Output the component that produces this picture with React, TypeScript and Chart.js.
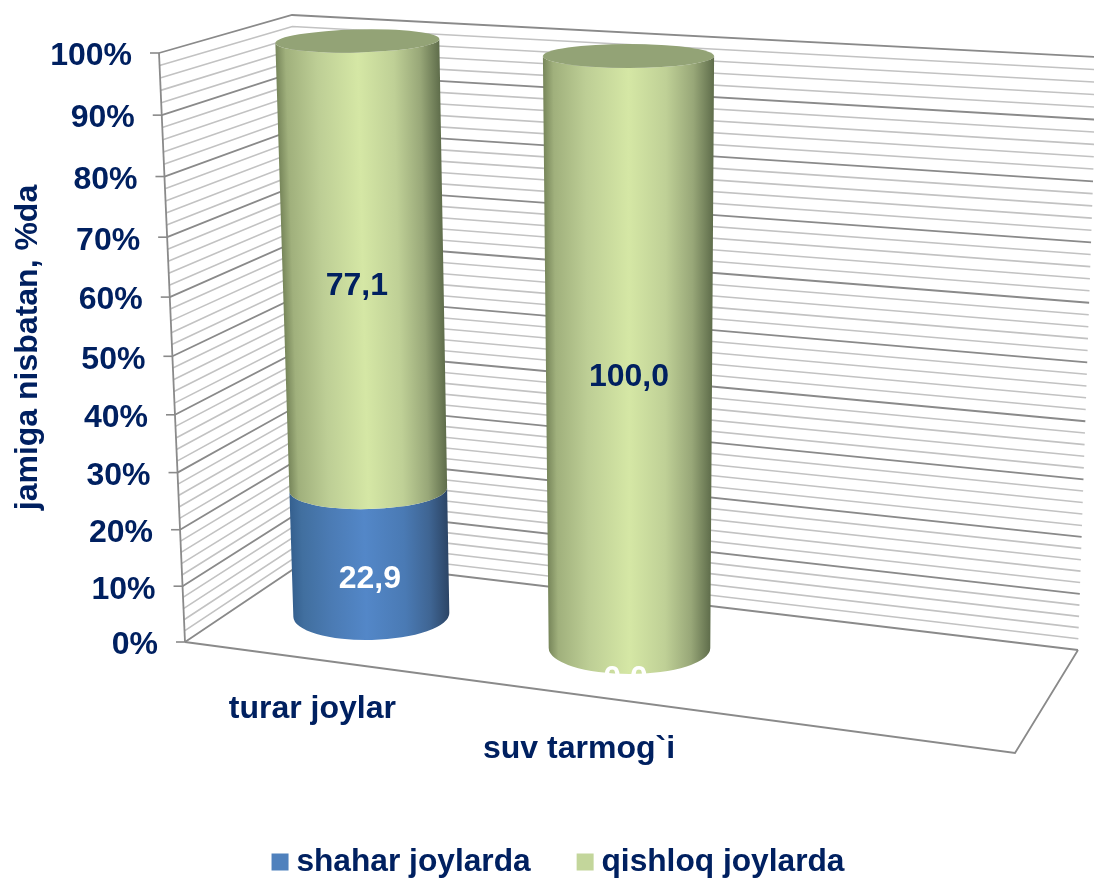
import React, { useEffect, useRef } from "react";
import { Chart, registerables, LinearScale, CategoryScale } from "chart.js";

const categories = ["turar joylar", "suv tarmog`i", ""];
const shaharValues = [22.9, 0];
const qishloqValues = [77.1, 100];
const seriesNames = ["shahar joylarda", "qishloq joylarda"];
const axisTitle = "jamiga nisbatan, %da";

const NAVY = "#002060";
const FONT = "'Liberation Sans', Arial, sans-serif";
const MAJOR = "#8a8a8a";
const MINOR = "#c2c2c2";

const SIDE_STOPS = [
  [[0, "#35608f"], [0.07, "#416f9f"], [0.25, "#4b7bb4"], [0.47, "#5387c8"], [0.72, "#4a7ab4"], [0.88, "#3f6593"], [1, "#2c4566"]],
  [[0, "#77865a"], [0.06, "#a0b07c"], [0.25, "#bdce95"], [0.5, "#d5e7a5"], [0.72, "#bfd096"], [0.88, "#98a778"], [1, "#5f6d4b"]],
];
const CAP_COLORS = ["#4a6f9f", "#93a376"];

// per-category cylinder look: offsets from the scale's own bar geometry
const SHAPES = [
  { dxB: 8, dxT: -6, wB: 0.975, wT: 1.025, yB: -27, yT: -12, ryB: 25, ryT: 11.5, tilt: -0.025 },
  { dxB: -0.5, dxT: -1.5, wB: 1.01, wT: 1.07, yB: 6, yT: 3, ryB: 26, ryT: 12, tilt: 0 },
];

const DEPTH = -0.058;
const persp = (v: number) => (v * (1 + DEPTH)) / (1 + DEPTH * v);
const lerp = (a: number, b: number, t: number) => a + (b - a) * t;
const frontEdgeX = (f: number) => lerp(185, 159, f);

class PerspectiveScale extends LinearScale {
  static id = "perspective";
  static defaults = LinearScale.defaults;
  getPixelForValue(value: number) {
    const self = this as any;
    if (value === null || value === undefined || Number.isNaN(+value)) return NaN;
    const v = (+value - self.min) / (self.max - self.min);
    return self.bottom - persp(v) * (self.bottom - self.top);
  }
  _computeLabelArea() {
    return undefined;
  }
  _computeLabelItems(ca: any) {
    const self = this as any;
    const items = super._computeLabelItems(ca);
    items.forEach((it: any) => {
      const y = it.options.translation[1];
      const f = (self.bottom - y) / (self.bottom - self.top);
      it.options.translation = [frontEdgeX(f) - 27, y + 3.5];
      it.options.textAlign = "right";
      it.options.textBaseline = "middle";
      it.textOffset = 0;
    });
    return items;
  }
}

class SkewCategoryScale extends CategoryScale {
  static id = "skewCategory";
  static defaults = CategoryScale.defaults;
  _computeLabelArea() {
    return undefined;
  }
  _computeLabelItems(ca: any) {
    const self = this as any;
    const items = super._computeLabelItems(ca);
    items.forEach((it: any, i: number) => {
      it.options.translation = [self.getPixelForTick(i) - 51, self.chart.chartArea.bottom + 67 + 40 * i];
      it.options.textAlign = "center";
      it.options.textBaseline = "middle";
      it.textOffset = 0;
    });
    return items;
  }
}

function cylinderAt(el: any, area: any, shape: any, py: number) {
  const f = (area.bottom - py) / (area.bottom - area.top);
  return {
    cx: el.x + lerp(shape.dxB, shape.dxT, f),
    cy: lerp(area.bottom + shape.yB, area.top + shape.yT, f),
    hw: (el.width / 2) * lerp(shape.wB, shape.wT, f),
    ry: shape.ryB + (shape.ryT - shape.ryB) * Math.pow(Math.max(f, 0), 0.6),
  };
}

function drawSegment(ctx: any, el: any, area: any, shape: any, stops: any, cap: string | null) {
  const low = cylinderAt(el, area, shape, el.base);
  const high = cylinderAt(el, area, shape, el.y);
  ctx.save();
  ctx.beginPath();
  ctx.ellipse(low.cx, low.cy, low.hw, low.ry, shape.tilt, Math.PI, 0, true);
  ctx.ellipse(high.cx, high.cy, high.hw, high.ry, shape.tilt, 0, Math.PI, false);
  ctx.closePath();
  ctx.clip();
  const y0 = Math.floor(high.cy - 6);
  const y1 = Math.ceil(low.cy + low.ry + 4);
  const yB = area.bottom + shape.yB;
  const yT = area.top + shape.yT;
  for (let y = y0; y < y1; y += 2) {
    const f = Math.min(1, Math.max(0, (yB - y) / (yB - yT)));
    const cx = el.x + lerp(shape.dxB, shape.dxT, f);
    const hw = (el.width / 2) * lerp(shape.wB, shape.wT, f);
    const g = ctx.createLinearGradient(cx - hw, 0, cx + hw, 0);
    stops.forEach((s: any) => g.addColorStop(s[0], s[1]));
    ctx.fillStyle = g;
    ctx.fillRect(cx - hw - 4, y, 2 * hw + 8, 2);
  }
  ctx.restore();
  if (cap) {
    ctx.beginPath();
    ctx.ellipse(high.cx, high.cy, high.hw, high.ry, shape.tilt, 0, Math.PI * 2);
    ctx.fillStyle = cap;
    ctx.fill();
  }
}

const walls = {
  id: "walls",
  beforeDatasetsDraw(chart: any) {
    const { ctx, chartArea: a } = chart;
    const yScale = chart.scales.y;
    const h = a.bottom - a.top;
    const line = (pts: number[][], color: string, w: number) => {
      ctx.beginPath();
      pts.forEach((p, i) => (i ? ctx.lineTo(p[0], p[1]) : ctx.moveTo(p[0], p[1])));
      ctx.strokeStyle = color;
      ctx.lineWidth = w;
      ctx.stroke();
    };
    ctx.save();
    const draw = (major: boolean) => {
      for (let v = yScale.min; v <= yScale.max; v += 2) {
        if ((v % 10 === 0) !== major) continue;
        const py = yScale.getPixelForValue(v);
        const f = (a.bottom - py) / h;
        const front = [frontEdgeX(f), py];
        const back = [lerp(310, 292, f), lerp(558, 15, f)];
        const right = [lerp(1078, 1097, f), lerp(650, 57, f)];
        line([front, back, right], major ? MAJOR : MINOR, major ? 1.8 : 1.6);
        if (major) line([[front[0] - 9, py], front], MAJOR, 1.6);
      }
    };
    draw(false);
    draw(true);
    line([[frontEdgeX(0), a.bottom], [frontEdgeX(1), a.top]], MAJOR, 1.8);
    line([[frontEdgeX(0), a.bottom], [1015, 753], [1078, 650]], MAJOR, 1.8);
    ctx.restore();
  },
};

const cylinders = {
  id: "cylinders",
  beforeDatasetDraw() {
    return false;
  },
  afterDatasetsDraw(chart: any) {
    const { ctx, chartArea: area } = chart;
    const count = chart.data.datasets.length;
    const metas = chart.data.datasets.map((_: any, i: number) => chart.getDatasetMeta(i));
    metas.forEach((meta: any, d: number) => {
      meta.data.forEach((el: any, i: number) => {
        if (Math.abs(el.base - el.y) < 0.5) return;
        drawSegment(ctx, el, area, SHAPES[i], SIDE_STOPS[d], d === count - 1 ? CAP_COLORS[d] : null);
      });
    });
    ctx.save();
    ctx.font = `bold 32px ${FONT}`;
    ctx.textAlign = "center";
    ctx.textBaseline = "middle";
    metas.forEach((meta: any, d: number) => {
      meta.data.forEach((el: any, i: number) => {
        const v = chart.data.datasets[d].data[i];
        const c = cylinderAt(el, area, SHAPES[i], (el.y + el.base) / 2);
        const zero = v === 0;
        const dy = zero ? 31 : d === 0 ? 27 : i === 0 ? 21 : 25;
        ctx.fillStyle = d === 0 ? "#ffffff" : NAVY;
        ctx.fillText(v.toFixed(1).replace(".", ","), c.cx + (d === 1 && i === 0 ? -6 : zero ? -4 : 0), c.cy + dy);
      });
    });
    ctx.restore();
  },
};

const legendPlace = {
  id: "legendPlace",
  afterLayout(chart: any) {
    const lg = chart.legend;
    const gap = chart.options.plugins.legend.labels.padding;
    lg.top = 862 - 15.85 - gap;
    lg.bottom = 878;
    lg.left = 76;
    lg.right = 1048;
  },
};

Chart.register(...registerables, PerspectiveScale as any, SkewCategoryScale as any);

export default function App() {
  const ref = useRef<HTMLCanvasElement>(null);
  useEffect(() => {
    const chart = new Chart(ref.current as any, {
      type: "bar",
      data: {
        labels: categories,
        datasets: [
          { label: seriesNames[0], data: shaharValues, backgroundColor: "#4f81bd" },
          { label: seriesNames[1], data: qishloqValues, backgroundColor: "#c3d69b" },
        ],
      },
      plugins: [walls, cylinders, legendPlace],
      options: {
        responsive: false,
        animation: false,
        barPercentage: 0.6,
        categoryPercentage: 1,
        layout: { padding: { left: 86, right: 64, top: 53, bottom: 0 } },
        plugins: {
          tooltip: { enabled: false },
          legend: {
            position: "bottom",
            maxHeight: 31,
            labels: {
              color: NAVY,
              usePointStyle: true,
              pointStyle: "rect",
              boxWidth: 1,
              boxHeight: 17,
              padding: 54,
              font: { family: FONT, size: 31.7, weight: "bold", lineHeight: 1 },
            },
          },
        },
        scales: {
          x: {
            type: "skewCategory",
            stacked: true,
            grid: { display: false },
            border: { display: false },
            ticks: { color: NAVY, maxRotation: 0, autoSkip: false, font: { family: FONT, size: 32, weight: "bold" } },
            afterFit: (s: any) => {
              s.height = 878 - 642 - 31;
            },
          },
          y: {
            type: "perspective",
            stacked: true,
            min: 0,
            max: 100,
            grid: { display: false },
            border: { display: false },
            ticks: {
              stepSize: 10,
              color: NAVY,
              autoSkip: false,
              callback: (v: any) => `${v}%`,
              font: { family: FONT, size: 32, weight: "bold" },
            },
            title: {
              display: true,
              text: axisTitle,
              color: NAVY,
              padding: { top: -77, bottom: 0 },
              font: { family: FONT, size: 32, weight: "bold" },
            },
            afterFit: (s: any) => {
              s.width = 144;
            },
          },
        },
      } as any,
    });
    return () => chart.destroy();
  }, []);
  return (
    <div style={{ position: "fixed", left: 0, top: 0, width: 1094, height: 878, background: "#fff" }}>
      <canvas ref={ref} width={1094} height={878} style={{ display: "block" }} />
    </div>
  );
}
